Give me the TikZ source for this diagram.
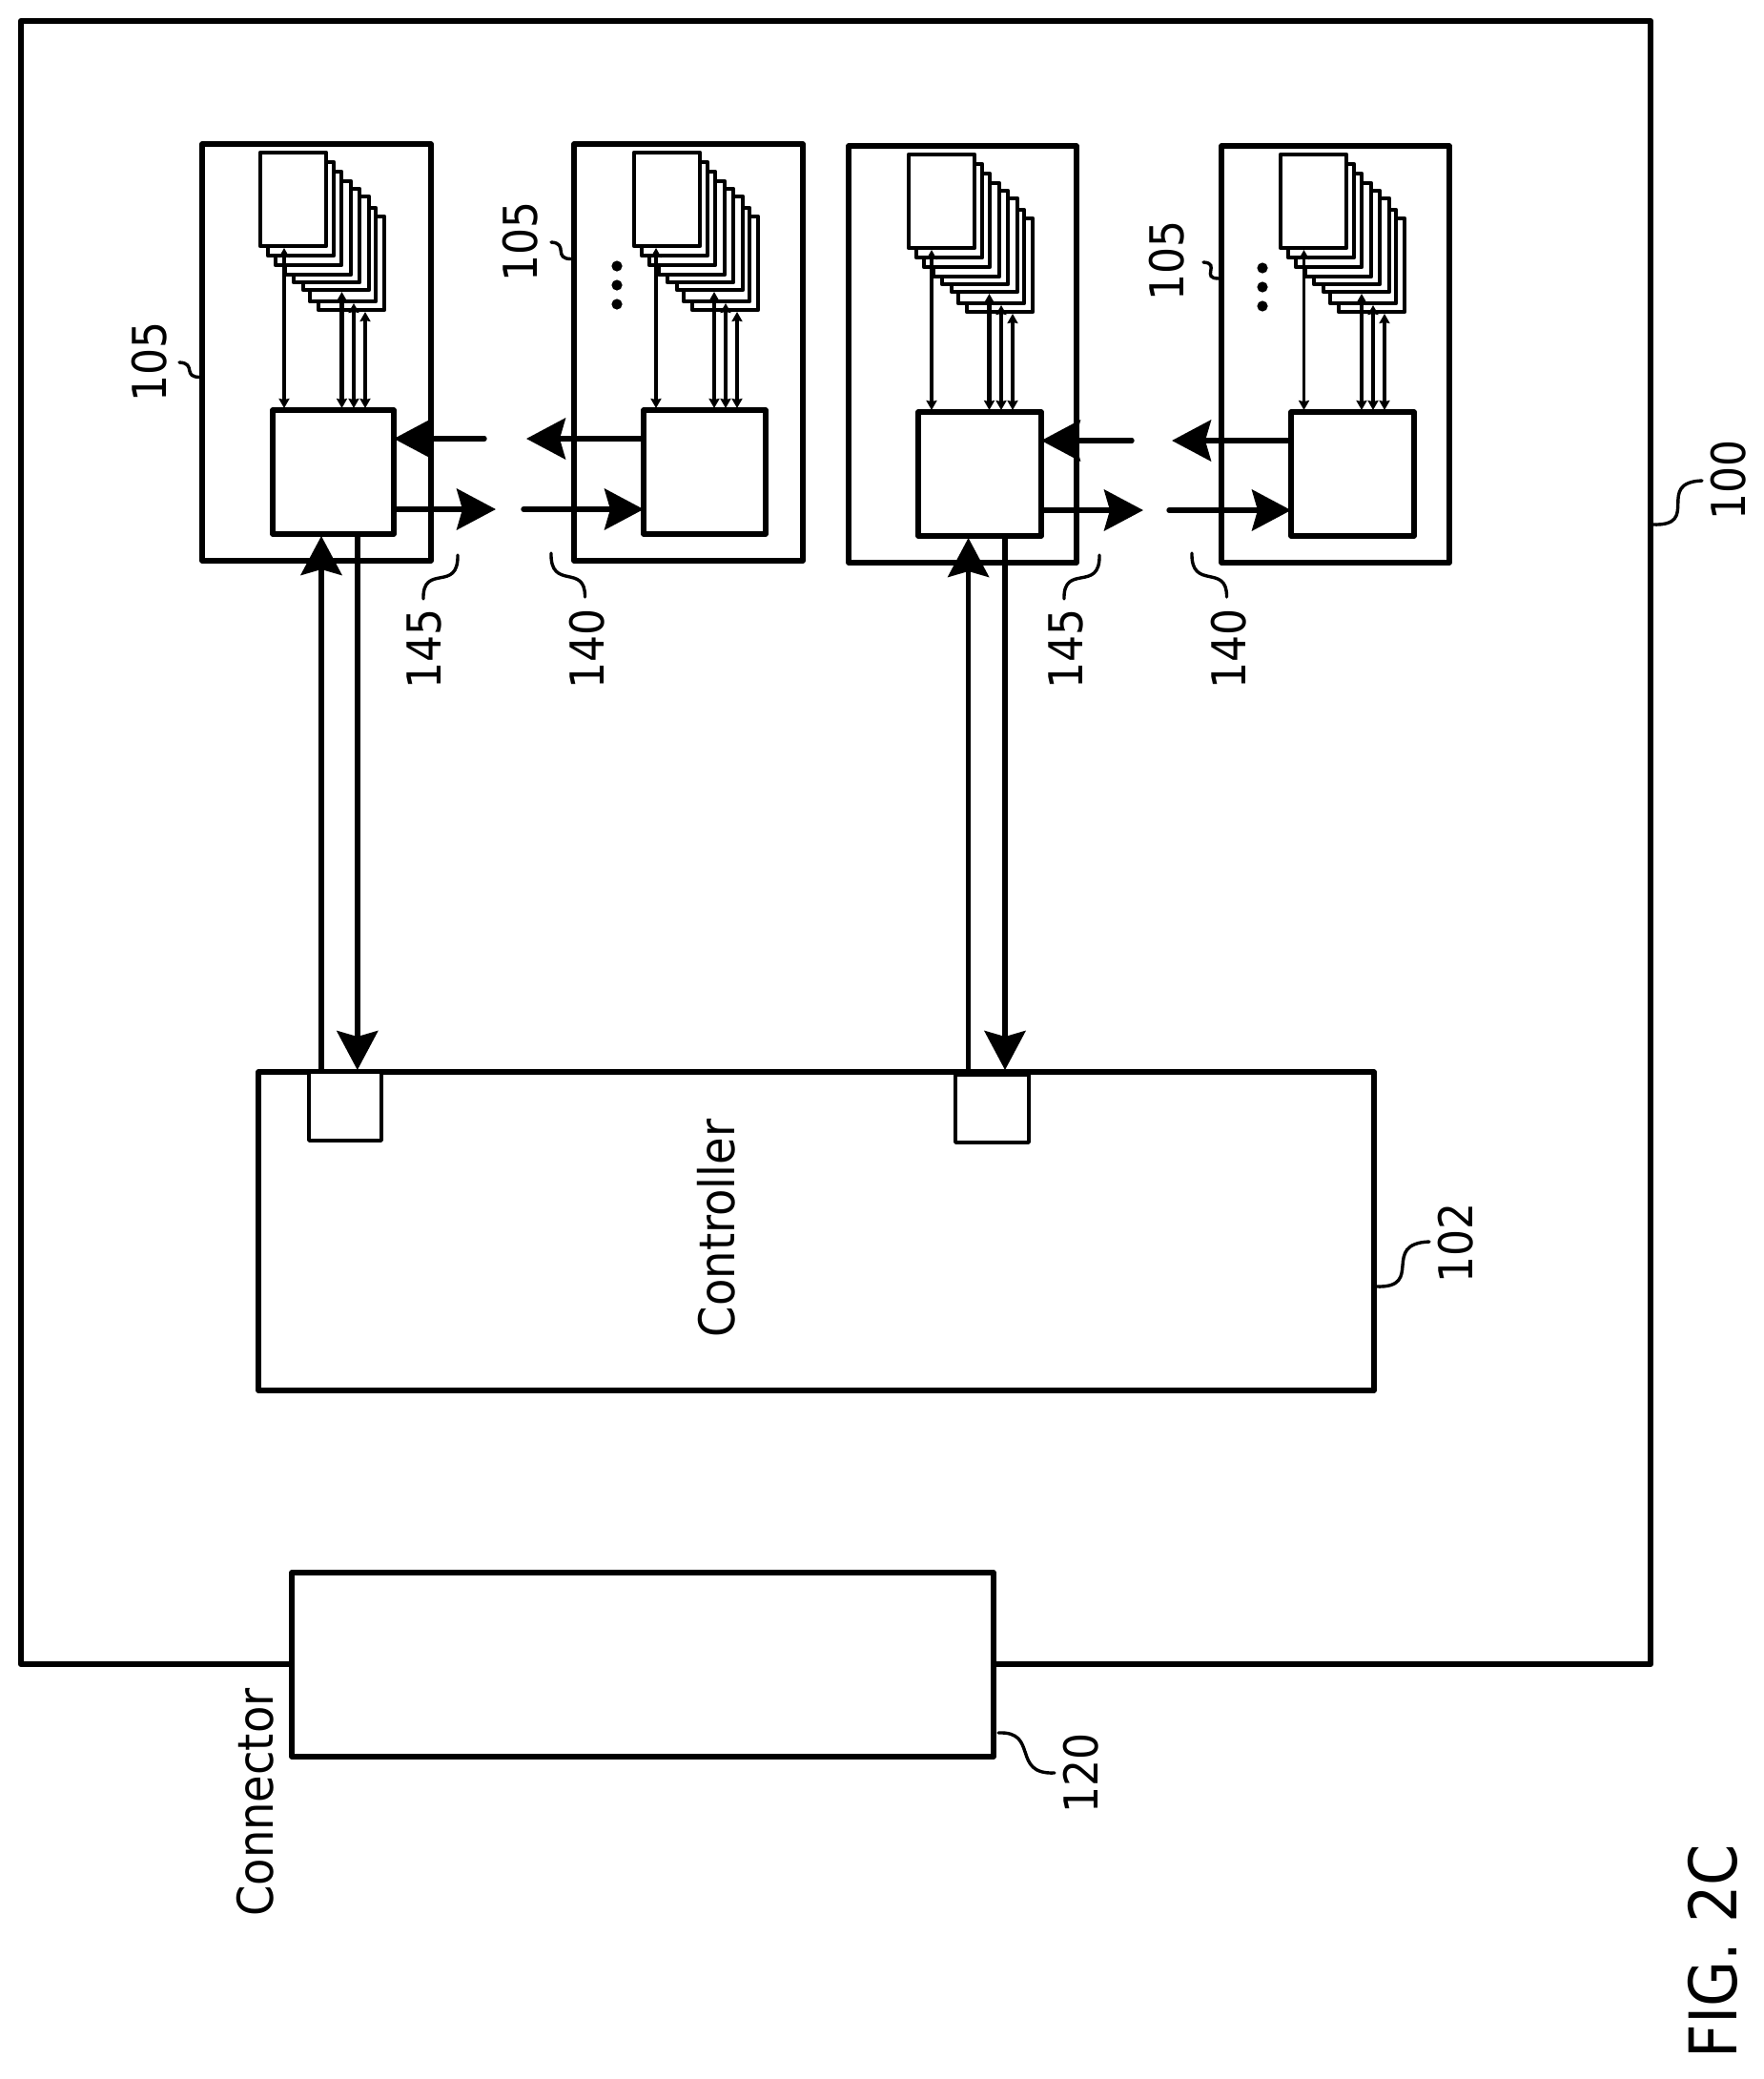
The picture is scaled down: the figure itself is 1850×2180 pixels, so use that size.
\documentclass[tikz,border=0pt]{standalone}
\usepackage{fontspec}
\setmainfont{DejaVu Sans Condensed}
\usetikzlibrary{arrows.meta,calc}
\tikzset{
  boxn/.style={draw,fill=white,line width=2.7pt,line join=round,inner sep=0pt,outer sep=0pt},
  outern/.style={boxn,line width=3.2pt},
  portn/.style={boxn,line width=1.8pt},
  stackn/.style={boxn,line width=2.3pt,minimum width=34.5pt,minimum height=49pt,anchor=north west},
  dotn/.style={circle,fill=black,inner sep=0pt,outer sep=0pt,minimum size=5.6pt},
  bigarrow/.style={line width=2.7pt,-{Stealth[length=20.5pt,width=21.5pt,inset=3pt]},shorten >=1pt},
  sidearrow/.style={bigarrow,shorten >=0pt},
  busarrow/.style={line width=2.4pt,{Stealth[length=5pt,width=5.5pt,inset=0.5pt]}-{Stealth[length=5pt,width=5.5pt,inset=0.5pt]},shorten <=1pt,shorten >=1pt},
  thinbus/.style={busarrow,line width=1.9pt},
  leader/.style={line width=1.7pt,line cap=round},
  lab/.style={rotate=90,anchor=base,font=\fontsize{24.5}{28}\selectfont,inner sep=0pt},
  txt/.style={rotate=90,anchor=base,font=\fontsize{25.8}{30}\selectfont,inner sep=0pt},
  figlab/.style={rotate=90,anchor=base,font=\fontsize{34.5}{40}\selectfont,inner sep=0pt}
}
\newcommand{\mybox}[6]{\node[#6,minimum width={(#4-#2)*0.5pt},minimum height={(#5-#3)*0.5pt},anchor=north west] (#1) at (#2,#3) {};}
\newcommand{\stackrects}[3]{%
  \foreach \i/\dx/\dy in {8/61/67,7/52/58,6/45/46,5/35/38,4/26/30,3/16/20,2/8/10,1/0/0}{
    \node[stackn] (#1\i) at ({#2+\dx},{#3+\dy}) {};
  }}
\begin{document}
\begin{tikzpicture}[x=0.5pt,y=-0.5pt]
\useasboundingbox (0,0) rectangle (1850,2180);
\fill[white] (0,0) rectangle (1850,2180);
% outer enclosure
\mybox{outer}{22}{22}{1731}{1745}{outern}
% connector and controller
\mybox{conn}{306}{1649}{1042}{1842}{boxn}
\mybox{ctlr}{271}{1124}{1441}{1458}{boxn}
\mybox{portA}{324}{1124}{400}{1196}{portn}
\mybox{portB}{1002}{1127}{1079}{1198}{portn}
% memory modules
\mybox{boxA}{212}{151}{452}{588}{boxn}
\mybox{boxB}{602}{151}{842}{588}{boxn}
\mybox{boxC}{890}{153}{1129}{590}{boxn}
\mybox{boxD}{1281}{153}{1520}{590}{boxn}
\mybox{cA}{286}{430}{413}{560}{boxn}
\mybox{cB}{675}{430}{803}{560}{boxn}
\mybox{cC}{963}{432}{1092}{562}{boxn}
\mybox{cD}{1354}{432}{1483}{562}{boxn}
\stackrects{sA}{273}{160}
\stackrects{sB}{665}{160}
\stackrects{sC}{953}{162}
\stackrects{sD}{1343}{162}
% x and y guides for connectors
\coordinate (xA0) at (298,0); \coordinate (xA1) at (358.5,0); \coordinate (xA2) at (371,0); \coordinate (xA3) at (383,0);
\coordinate (xB0) at (688,0); \coordinate (xB1) at (749,0); \coordinate (xB2) at (761,0); \coordinate (xB3) at (773,0);
\coordinate (xC0) at (977,0); \coordinate (xC1) at (1037.5,0); \coordinate (xC2) at (1050,0); \coordinate (xC3) at (1062,0);
\coordinate (xD0) at (1367.5,0); \coordinate (xD1) at (1428,0); \coordinate (xD2) at (1440,0); \coordinate (xD3) at (1452,0);
\foreach \m in {A,B,C,D}{
  \draw[thinbus] (x\m0 |- s\m1.south) -- (x\m0 |- c\m.north);
  \draw[busarrow] (x\m1 |- s\m6.south) -- (x\m1 |- c\m.north);
  \draw[busarrow] (x\m2 |- s\m7.south) -- (x\m2 |- c\m.north);
  \draw[busarrow] (x\m3 |- s\m8.south) -- (x\m3 |- c\m.north);
}
% inter-module arrows
\coordinate (t1) at (508,460); \coordinate (t2) at (552,460);
\coordinate (t3) at (520,534); \coordinate (t4) at (549,534);
\coordinate (t5) at (1187,462); \coordinate (t6) at (1229,462);
\coordinate (t7) at (1199,535); \coordinate (t8) at (1226,535);
\draw[sidearrow,line cap=round] (t1) -- (t1 -| cA.east);
\draw[sidearrow] (t2 -| cB.west) -- (t2);
\draw[sidearrow] (t3 -| cA.east) -- (t3);
\draw[sidearrow,line cap=round] (t4) -- (t4 -| cB.west);
\draw[sidearrow,line cap=round] (t5) -- (t5 -| cC.east);
\draw[sidearrow] (t6 -| cD.west) -- (t6);
\draw[sidearrow] (t7 -| cC.east) -- (t7);
\draw[sidearrow,line cap=round] (t8) -- (t8 -| cD.west);
% controller links
\coordinate (u1) at (337,0); \coordinate (u2) at (374.8,0);
\coordinate (u3) at (1015.6,0); \coordinate (u4) at (1054,0);
\draw[bigarrow] (u1 |- portA.north) -- (u1 |- cA.south);
\draw[bigarrow] (u2 |- cA.south) -- (u2 |- ctlr.north);
\draw[bigarrow] (u3 |- portB.north) -- (u3 |- cC.south);
\draw[bigarrow] (u4 |- cC.south) -- (u4 |- ctlr.north);
% dots
\node[dotn] (dB1) at (647,279) {}; \node[dotn] (dB2) at (647,299) {}; \node[dotn] (dB3) at (647,319) {};
\node[dotn] (dD1) at (1324,281) {}; \node[dotn] (dD2) at (1324,301) {}; \node[dotn] (dD3) at (1324,321) {};
% reference numerals
\node[lab] (n105a) at (174,379) {105};
\node[lab] (n105b) at (563.5,253) {105};
\node[lab] (n105d) at (1241.5,273.5) {105};
\node[lab] (n145a) at (462,680) {145};
\node[lab] (n140a) at (633,680) {140};
\node[lab] (n145c) at (1135,680) {145};
\node[lab] (n140d) at (1306,680) {140};
\node[lab] (n100) at (1830,503) {100};
\node[lab] (n102) at (1544,1303) {102};
\node[lab] (n120) at (1151,1859) {120};
\node[txt] (tconn) at (286,1890) {Connector};
\node[txt] (tctlr) at (770,1288) {Controller};
\node[figlab] (tfig) at (1821,2046) {FIG. 2C};
% leaders
\draw[leader] (211,395.5) .. controls (190,396) and (207,381) .. (188,380);
\draw[leader] (600,271.5) .. controls (579,272) and (597,255) .. (578,254);
\draw[leader] (1279,292) .. controls (1258,292.5) and (1281,276) .. (1262,275);
\draw[leader] (480,582) .. controls (481,622) and (443,590) .. (444,628);
\draw[leader] (578,580) .. controls (577,620) and (614,590) .. (613.5,626);
\draw[leader] (1153,582) .. controls (1154,622) and (1115,590) .. (1116,628);
\draw[leader] (1250,580) .. controls (1249,620) and (1287,590) .. (1286.5,626);
\draw[leader] (1733,550) .. controls (1785,552) and (1735,506) .. (1785,504);
\draw[leader] (1443,1349) .. controls (1495,1351) and (1447,1304) .. (1499,1302);
\draw[leader] (1047,1817) .. controls (1090,1815) and (1060,1861) .. (1106,1859);
\end{tikzpicture}
\end{document}
